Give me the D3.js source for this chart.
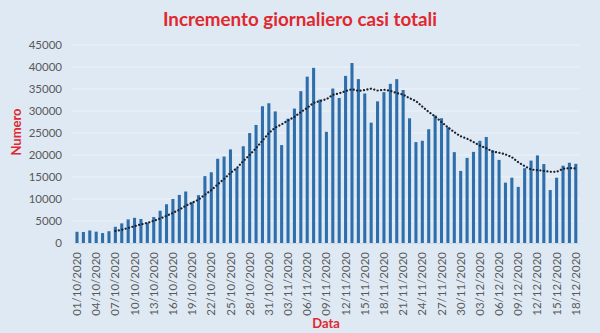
<!DOCTYPE html>
<html>
<head>
<meta charset="utf-8">
<script src="https://cdn.jsdelivr.net/npm/d3@7"></script>
<style>
  html, body { margin: 0; padding: 0; background: #dfe9f4; }
  svg { display: block; font-family: Lato, "Open Sans", sans-serif; }
</style>
</head>
<body>
<svg id="chart" width="600" height="333"></svg>
<script>
// Daily increment of total cases, 1 Oct – 18 Dec 2020
const startDate = "2020-10-01";
const dailyCases = [
  2548, 2499, 2844, 2578, 2257, 2677, 3678, 4458, 5372, 5724,
  5456, 4619, 5901, 7332, 8804, 10010, 10925, 11705, 9338, 10874,
  15199, 16078, 19143, 19644, 21273, 17012, 21994, 24991, 26831, 31084,
  31758, 29907, 22253, 28244, 30550, 34505, 37809, 39811, 32616, 25271,
  35098, 32961, 37978, 40902, 37255, 33979, 27354, 32191, 34283, 36176,
  37242, 34767, 28337, 22930, 23232, 25853, 29003, 28352, 26323, 20648,
  16377, 19350, 20709, 23225, 24099, 21052, 18887, 13720, 14842, 12756,
  16999, 18727, 19903, 17938, 12030, 14844, 17572, 18236, 17992
];
const yTicks = [0, 5000, 10000, 15000, 20000, 25000, 30000, 35000, 40000, 45000];
const titleText = "Incremento giornaliero casi totali";
const yTitle = "Numero";
const xTitle = "Data";
const maPeriod = 7; // moving-average trendline period

const fmt = d3.timeFormat("%d/%m/%Y");
const t0 = d3.timeParse("%Y-%m-%d")(startDate);
const dates = dailyCases.map((_, i) => fmt(d3.timeDay.offset(t0, i)));
const tickDates = dates.filter((_, i) => i % 3 === 0);

const svg = d3.select("#chart");
const W = 600, H = 333;
const m = { left: 73.8, right: 21, top: 45, bottom: 90 };

svg.append("rect").attr("width", W).attr("height", H).attr("fill", "#dfe9f4");

const x = d3.scaleBand().domain(dates).range([m.left, W - m.right]).paddingInner(0.52).paddingOuter(0.26);
const y = d3.scaleLinear().domain([0, 45000]).range([H - m.bottom, m.top]);

// gridlines
svg.append("g").selectAll("line").data(yTicks.filter(d => d > 0)).join("line")
  .attr("x1", 72).attr("x2", 580)
  .attr("y1", d => y(d)).attr("y2", d => y(d))
  .attr("stroke", "#ecf2f9").attr("stroke-width", 1);

// y axis labels
const yAxis = d3.axisLeft(y).tickValues(yTicks).tickSize(0).tickPadding(0).tickFormat(d3.format("d"));
const gy = svg.append("g").attr("transform", "translate(62,0)").call(yAxis);
gy.select(".domain").remove();
gy.selectAll("text").attr("fill", "#595959").attr("font-size", 11.5).attr("font-family", "Lato, sans-serif");

// bars
svg.append("g").selectAll("rect").data(dailyCases).join("rect")
  .attr("x", (d, i) => x(dates[i]))
  .attr("width", x.bandwidth())
  .attr("y", d => y(d))
  .attr("height", d => y(0) - y(d))
  .attr("fill", "#2e6eaa");

// x axis
const xAxis = d3.axisBottom(x).tickValues(tickDates).tickSize(0).tickPadding(0);
const gx = svg.append("g").attr("transform", `translate(0,${y(0)})`).call(xAxis);
gx.select(".domain").attr("stroke", "#d0dbe8");
gx.selectAll("text")
  .attr("fill", "#595959").attr("font-size", 11.5).attr("font-family", "Lato, sans-serif")
  .attr("transform", "rotate(-90)")
  .attr("text-anchor", "end")
  .attr("x", -9).attr("y", 0).attr("dy", "0.35em");

// moving-average trendline
const ma = d3.range(maPeriod - 1, dailyCases.length).map(i => ({
  i, v: d3.mean(dailyCases.slice(i - maPeriod + 1, i + 1))
}));
const line = d3.line()
  .x(d => x(dates[d.i]) + x.bandwidth() / 2)
  .y(d => y(d.v))
  .curve(d3.curveLinear);
svg.append("path").datum(ma)
  .attr("d", line)
  .attr("fill", "none")
  .attr("stroke", "#1b1f2a")
  .attr("stroke-width", 2.2)
  .attr("stroke-linecap", "round")
  .attr("stroke-dasharray", "0.1,3.4");

// titles
svg.append("text").attr("x", 300).attr("y", 26).attr("text-anchor", "middle")
  .attr("font-size", 18.8).attr("font-weight", "bold").attr("fill", "#e0282e")
  .text(titleText);
svg.append("text").attr("transform", "translate(21,132) rotate(-90)").attr("text-anchor", "middle")
  .attr("font-size", 13).attr("font-weight", "bold").attr("fill", "#e0282e")
  .text(yTitle);
svg.append("text").attr("x", 326).attr("y", 328).attr("text-anchor", "middle")
  .attr("font-size", 13).attr("font-weight", "bold").attr("fill", "#e0282e")
  .text(xTitle);
</script>
</body>
</html>
